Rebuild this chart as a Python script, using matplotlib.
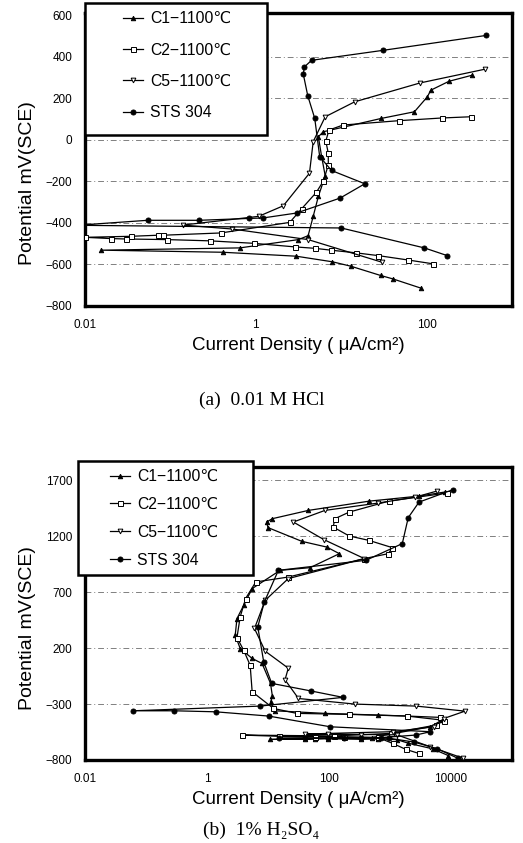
import numpy as np
import matplotlib.pyplot as plt
from matplotlib.patches import Rectangle
from matplotlib.ticker import FixedLocator, FixedFormatter

plt.rcParams['font.family'] = ['Liberation Sans', 'DejaVu Sans']
plt.rcParams['axes.unicode_minus'] = True

# ---- (a) 0.01 M HCl : current density (uA/cm2), potential (mV SCE)
c1_hcl_i = [86, 40, 29, 12.9, 7.9, 2.97, 0.41, 0.0156, 0.65, 3.16, 4.1, 4.7, 5.4, 6.5, 5.9, 5.4, 6.2, 29.5, 72, 102, 112, 183, 340]
c1_hcl_e = [-714, -669, -653, -608, -587, -560, -541, -531, -520, -480, -461, -368, -272, -173, -80, 16, 40, 104, 136, 208, 240, 283, 312]

c2_hcl_i = [120, 60, 27, 15, 7.6, 4.9, 2.84, 0.95, 0.29, 0.091, 0.03, 0.02, 0.01, 0.035, 0.071, 0.081, 0.39, 2.5, 3.45, 5.1, 6.2, 7.06, 7.06, 6.6, 7.2, 10.5, 47, 150, 330]
c2_hcl_e = [-597, -578, -557, -544, -531, -522, -515, -498, -486, -480, -477, -475, -469, -464, -459, -459, -448, -397, -331, -253, -197, -120, -64, -5, 48, 72, 93, 106, 112]

c5_hcl_i = [30, 4.1, 0.53, 0.139, 1.08, 2.1, 4.25, 4.7, 6.5, 14.4, 84, 480]
c5_hcl_e = [-589, -480, -429, -410, -368, -317, -160, -8, 112, 184, 275, 341]

sts_hcl_i = [174, 94, 10, 0.008, 0.054, 0.217, 0.83, 1.2, 3.0, 9.7, 18.9, 7.7, 5.6, 4.9, 4.06, 3.6, 3.7, 4.5, 30.8, 500]
sts_hcl_e = [-557, -520, -424, -411, -387, -387, -378, -376, -352, -280, -211, -147, -80, 104, 213, 317, 352, 384, 432, 504]

# ---- (b) 1% H2SO4
c1_so4_i = [9000, 5000, 2000, 1300, 630, 334, 97, 40, 10.9, 60, 500, 4600, 7100, 1900, 630, 85, 13, 11, 11.8, 11, 8, 5.5, 3.5, 2.9, 3.1, 4, 5.5, 15.8, 49, 148, 92, 36, 10, 9.5, 11.8, 46, 460, 3000, 7900]
c1_so4_e = [-760, -700, -650, -618, -612, -615, -610, -614, -616, -608, -600, -503, -443, -407, -398, -383, -360, -285, -229, -115, 63, 108, 197, 316, 465, 584, 733, 896, 920, 1045, 1104, 1155, 1278, 1328, 1358, 1432, 1515, 1560, 1596]

c2_so4_i = [2960, 1820, 1100, 630, 177, 58, 14.9, 3.7, 120, 1030, 5600, 7600, 6700, 1900, 210, 29.5, 12.3, 5.5, 5.1, 4.0, 3.1, 3.5, 4.3, 6.3, 21.5, 380, 940, 1090, 450, 215, 117, 125, 215, 960, 8500]
c2_so4_e = [-741, -705, -651, -598, -592, -590, -588, -577, -585, -562, -488, -450, -419, -407, -392, -383, -339, -190, 47, 180, 295, 480, 644, 792, 836, 1001, 1045, 1099, 1164, 1203, 1283, 1358, 1417, 1515, 1587]

c5_so4_i = [16000, 4600, 1300, 334, 97, 40, 1100, 5200, 7600, 17000, 2700, 265, 31.6, 19, 21.5, 9, 6, 9, 21.5, 380, 83, 26, 86, 630, 2600, 5900]
c5_so4_e = [-785, -682, -575, -572, -570, -568, -547, -503, -429, -363, -318, -300, -250, -83, 21, 173, 376, 628, 822, 1001, 1170, 1328, 1432, 1497, 1551, 1605]

sts_so4_i = [13000, 6000, 2500, 950, 334, 177, 97, 40, 14.9, 700, 2640, 4600, 105, 10.2, 1.38, 0.29, 0.061, 7.4, 170, 50, 11.5, 8.5, 6.8, 8.7, 14.8, 405, 1590, 1990, 2990, 10700]
sts_so4_e = [-785, -700, -640, -605, -606, -604, -607, -605, -606, -600, -577, -547, -503, -407, -369, -360, -360, -318, -240, -182, -115, 78, 390, 613, 896, 986, 1135, 1367, 1506, 1617]

labels = ['C1\u22121100\u2103', 'C2\u22121100\u2103', 'C5\u22121100\u2103', 'STS 304']
styles = [dict(marker='^', mfc='black', ms=3.2),
          dict(marker='s', mfc='white', ms=3.6),
          dict(marker='v', mfc='white', ms=3.4),
          dict(marker='o', mfc='black', ms=3.6)]

W, H = 523, 843
fig = plt.figure(figsize=(W / 100, H / 100), dpi=100)
ax1 = fig.add_axes([85 / W, 1 - 306 / H, 427 / W, 293 / H])
ax2 = fig.add_axes([85 / W, 1 - 760 / H, 427 / W, 293 / H])


def draw(ax, series, xlim, ylim, yticks, xticks, xticklabels, box, leg_xy, spacing, ylab_y):
    lines = []
    for (xs, ys), st in zip(series, styles):
        ln, = ax.plot(xs, ys, color='black', lw=0.9, mec='black', mew=0.7, zorder=3, **st)
        lines.append(ln)
    ax.set_xscale('log')
    ax.set_xlim(*xlim)
    ax.set_ylim(*ylim)
    for t in yticks[1:]:
        if t < ylim[1] - 20:
            ax.axhline(t, color='0.5', lw=0.7, ls=(0, (6, 3, 1, 3)), zorder=1)
    ax.yaxis.set_major_locator(FixedLocator(yticks))
    ax.xaxis.set_major_locator(FixedLocator(xticks))
    ax.xaxis.set_major_formatter(FixedFormatter(xticklabels))
    ax.xaxis.set_minor_locator(FixedLocator([]))
    ax.tick_params(length=0, labelsize=8.5, pad=9)
    for s in ax.spines.values():
        s.set_linewidth(2.4)
    ax.set_ylabel('Potential mV(SCE)', fontsize=14)
    ax.yaxis.set_label_coords(-0.115, ylab_y)
    ax.set_xlabel('Current Density ( \u03bcA/cm\u00b2)', fontsize=13.5, labelpad=5)

    # legend box sticks out above the axes, so frame and legend live on the figure
    x0, y0, x1, y1 = box
    fig.patches.append(Rectangle((x0 / W, 1 - y1 / H), (x1 - x0) / W, (y1 - y0) / H,
                                 transform=fig.transFigure, facecolor='white',
                                 edgecolor='black', lw=1.8, zorder=4))
    leg = fig.legend(lines, labels, loc='upper left',
                     bbox_to_anchor=(leg_xy[0] / W, 1 - leg_xy[1] / H),
                     borderaxespad=0, borderpad=0, frameon=False, numpoints=1,
                     handlelength=1.3, handletextpad=0.45, labelspacing=spacing,
                     fontsize=11.3)
    leg.set_zorder(5)


draw(ax1, [(c1_hcl_i, c1_hcl_e), (c2_hcl_i, c2_hcl_e), (c5_hcl_i, c5_hcl_e), (sts_hcl_i, sts_hcl_e)],
     (0.01, 1000), (-800, 612), [-800, -600, -400, -200, 0, 200, 400, 600],
     [0.01, 1, 100], ['0.01', '1', '100'], (85, 3, 267, 135), (123, 11), 1.05, 0.42)
draw(ax2, [(c1_so4_i, c1_so4_e), (c2_so4_i, c2_so4_e), (c5_so4_i, c5_so4_e), (sts_so4_i, sts_so4_e)],
     (0.01, 1e5), (-800, 1820), [-800, -300, 200, 700, 1200, 1700],
     [0.01, 1, 100, 10000], ['0.01', '1', '100', '10000'], (78, 461, 253, 575), (110, 469), 0.82, 0.45)

fig.text(0.5, 1 - 400 / H, '(a)  0.01 M HCl', ha='center', va='center',
         fontsize=14, family=['Liberation Serif', 'DejaVu Serif'])
fig.text(0.5, 1 - 830 / H, '(b)  1% H\u2082SO\u2084', ha='center', va='center',
         fontsize=14, family=['Liberation Serif', 'DejaVu Serif'])

fig.savefig('out.png', dpi=100)
